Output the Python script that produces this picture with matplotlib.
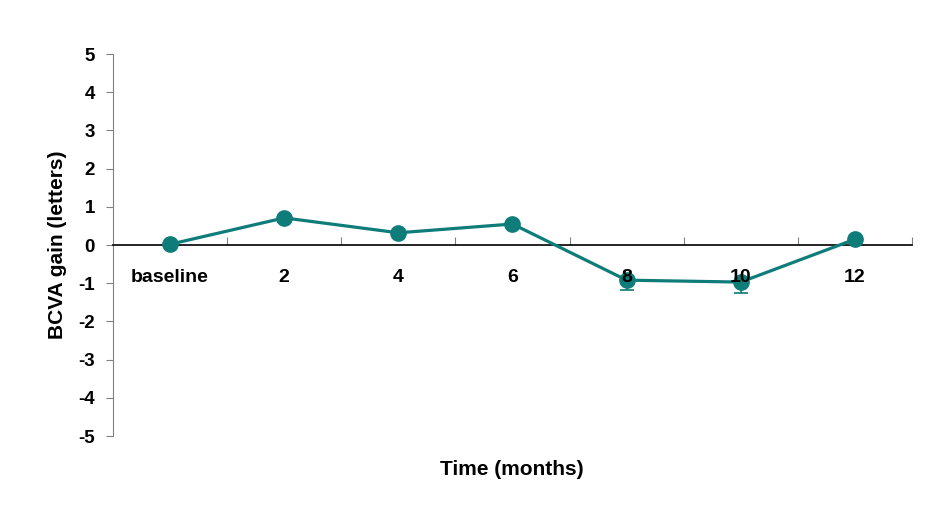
import matplotlib
matplotlib.use("Agg")
import matplotlib.pyplot as plt
import numpy as np

# data
categories = ["baseline", "2", "4", "6", "8", "10", "12"]
bcva_gain = [0.02, 0.71, 0.32, 0.55, -0.92, -0.97, 0.15]
err_low = [0.0, 0.12, 0.05, 0.05, 0.26, 0.28, 0.05]

plt.rcParams['font.family'] = ['Liberation Sans', 'DejaVu Sans']
plt.rcParams['font.weight'] = 'bold'

teal = '#0e7c78'
fig = plt.figure(figsize=(9.47, 5.28), dpi=100)
ax = fig.add_axes([0.1193, 0.1742, 0.8437, 0.7235])

x = np.arange(len(categories))
ax.errorbar(x, bcva_gain, yerr=[err_low, np.zeros(len(err_low))], color=teal,
            lw=2.3, marker='o', ms=11, ecolor=teal, elinewidth=1.2, capsize=5,
            capthick=1.2, zorder=3)

ax.set_xlim(-0.5, len(categories) - 0.5)
ax.set_ylim(-5, 5)
ax.set_yticks(range(-5, 6))
ax.set_yticklabels([str(v) for v in range(-5, 6)], fontsize=13.5, fontweight='bold')

# category axis crossing at y = 0
ax.spines['top'].set_visible(False)
ax.spines['right'].set_visible(False)
ax.spines['bottom'].set_position(('data', 0))
ax.spines['bottom'].set_color('black')
ax.spines['bottom'].set_linewidth(1.2)
ax.spines['left'].set_color('#808080')

ax.set_xticks(np.arange(0.5, len(categories), 1))
ax.set_xticklabels([])
ax.tick_params(axis='x', which='major', direction='in', length=6, color='#808080')
ax.tick_params(axis='y', direction='out', length=5, color='#808080', pad=8)

# category labels drawn on top of the line, like the original
for xi, lab in zip(x, categories):
    ax.text(xi, -0.85, lab, ha='center', va='center', fontsize=14,
            fontweight='bold', zorder=5)

ax.set_ylabel('BCVA gain (letters)', fontsize=15, fontweight='bold', labelpad=8)
fig.text(0.54, 0.11, 'Time (months)', ha='center', va='center',
         fontsize=15, fontweight='bold')

fig.savefig('out.png', dpi=100)
